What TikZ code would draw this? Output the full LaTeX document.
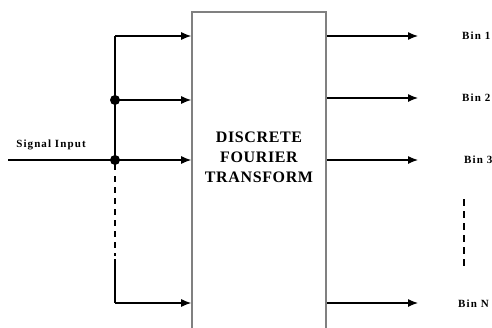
\documentclass[tikz,border=0pt]{standalone}
\usepackage{fontspec}
\setmainfont{Liberation Serif}
\usetikzlibrary{arrows.meta,positioning}
\definecolor{boxgray}{RGB}{128,128,128}
\tikzset{
 dftbox/.style={rectangle,draw=boxgray,line width=1.6pt,minimum width=134pt,minimum height=325pt,inner sep=0pt},
 dfttext/.style={font=\bfseries\fontsize{16}{20}\selectfont\addfontfeatures{LetterSpace=4},align=center,inner sep=0pt},
 binlabel/.style={font=\bfseries\fontsize{11}{13}\selectfont\addfontfeatures{LetterSpace=10},anchor=west,inner sep=0pt},
 inlabel/.style={font=\bfseries\fontsize{11}{13}\selectfont\addfontfeatures{LetterSpace=10},inner sep=0pt},
 arrow/.style={-{Latex[length=10pt,width=8pt]},line width=1.2pt,draw=black},
 wire/.style={line width=1.2pt,draw=black},
 tapdot/.style={circle,fill=black,inner sep=0pt,minimum size=10pt}}
\begin{document}
\begin{tikzpicture}[x=1pt,y=-1pt]
\useasboundingbox (0,0) rectangle (492,327);
\node[dftbox] (dft) at (259,174.5) {};
\node[dfttext] (title) at (259,157) {DISCRETE\\FOURIER\\TRANSFORM};
\coordinate (in) at (8,160);
\coordinate (tap1) at (115,36);
\coordinate (tap2) at (115,100);
\coordinate (split) at (115,160);
\coordinate (tapN) at (115,303);
\coordinate (dashtop) at (115,176);
\coordinate (dashbot) at (115,256);
\node[inlabel] (signal) at (51,145) {Signal Input};
\node[binlabel] (bin1) at (462,36) {Bin 1};
\node[binlabel] (bin2) at (462,98) {Bin 2};
\node[binlabel] (bin3) at (464,160) {Bin 3};
\node[binlabel] (binN) at (458,304) {Bin N};
\coordinate (vdots1) at (464,199);
\coordinate (vdots2) at (464,268);
% input side
\draw[wire] (in) -- (split);
\draw[wire] (tap1) -- (115,170);
\draw[wire,dash pattern=on 6pt off 5pt] (dashtop) -- (dashbot);
\draw[wire] (115,259) -- (tapN);
\draw[arrow] (tap1) -- (tap1 -| dft.west); \draw[arrow] (tap2) -- (tap2 -| dft.west);
\draw[arrow] (split) -- (split -| dft.west); \draw[arrow] (tapN) -- (tapN -| dft.west);
\node[tapdot] at (tap2) {}; \node[tapdot] at (split) {};
% output side
\draw[arrow] (dft.east |- bin1) -- ([xshift=-44pt]bin1.west);
\draw[arrow] (dft.east |- bin2) -- ([xshift=-44pt]bin2.west);
\draw[arrow] (dft.east |- bin3) -- ([xshift=-46pt]bin3.west);
\draw[arrow] (dft.east |- tapN) -- ([xshift=-40pt]binN.west |- tapN);
\draw[wire,dash pattern=on 7pt off 5pt] (vdots1) -- (vdots2);
\end{tikzpicture}
\end{document}
